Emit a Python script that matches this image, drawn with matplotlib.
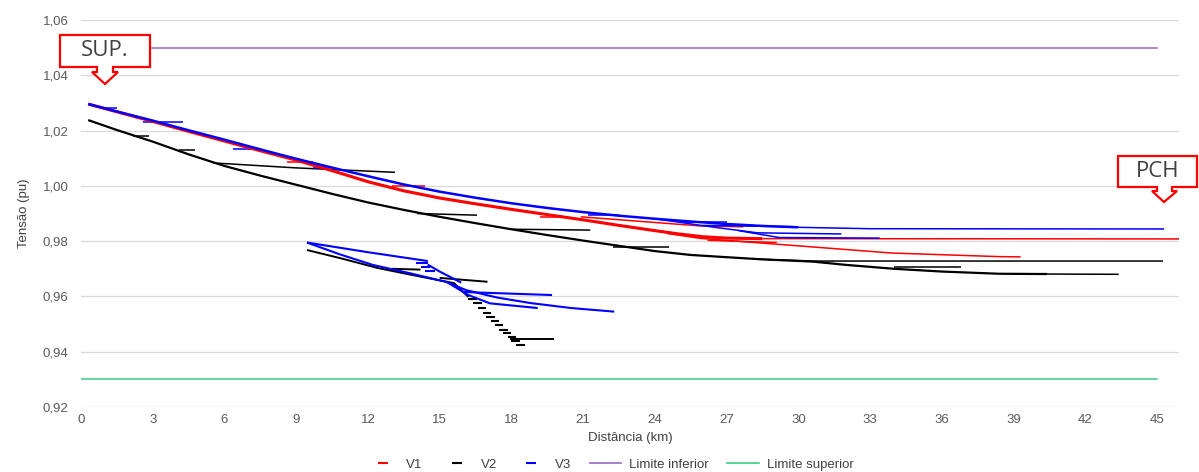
import matplotlib.pyplot as plt
from matplotlib.lines import Line2D
from matplotlib.patches import Polygon
from matplotlib.ticker import FuncFormatter, MultipleLocator

plt.rcParams['font.family'] = ['Liberation Sans', 'DejaVu Sans']

# Fase V1 (vermelho): tronco principal e ramais
v1_trunk_x = [0.3, 1.5, 3, 4.5, 6, 7.5, 9, 10.5, 12, 13.5, 15, 16.5, 18, 19.5,
              21, 22.5, 24, 25, 26, 27, 28.5]
v1_trunk_y = [1.0296, 1.0268, 1.0233, 1.0197, 1.0162, 1.0127, 1.0093, 1.0055,
              1.0015, 0.9982, 0.9956, 0.9935, 0.9915, 0.9896, 0.9877, 0.9857,
              0.9838, 0.9826, 0.9816, 0.9811, 0.9809]
v1_branches = [
    ([28.5, 46.1], [0.9809, 0.9808]),
    ([8.6, 9.7], [1.0087, 1.0087]),
    ([13.0, 14.4], [1.0001, 1.0001]),
    ([19.2, 20.2], [0.9888, 0.9888]),
    ([20.9, 25.9, 27.7], [0.9888, 0.9855, 0.9852]),
    ([26.2, 29.1], [0.9803, 0.9795]),
    ([24.5, 25.9, 30.6, 33.9, 38.4, 39.3], [0.9828, 0.9810, 0.9779, 0.9757, 0.9744, 0.9743]),
]

# Fase V2 (preto)
v2_trunk_x = [0.3, 1.5, 3, 4.5, 6, 7.5, 9, 10.5, 12, 13.5, 15, 16.5, 18, 19.5,
              21, 22.5, 24, 25.5, 27, 28.5, 30.6, 32, 34, 36, 38.4, 40.4]
v2_trunk_y = [1.0238, 1.0202, 1.0160, 1.0114, 1.0072, 1.0037, 1.0004, 0.9971,
              0.9940, 0.9913, 0.9888, 0.9865, 0.9843, 0.9822, 0.9802, 0.9783,
              0.9764, 0.9750, 0.9742, 0.9734, 0.9726, 0.9714, 0.9700, 0.9690,
              0.9682, 0.9681]
v2_branches = [
    ([40.4, 43.4], [0.9681, 0.9680]),
    ([2.17, 2.84], [1.0181, 1.0181]),
    ([4.1, 4.77], [1.0130, 1.0130]),
    ([5.52, 9.0, 13.13], [1.0083, 1.0065, 1.0049]),
    ([14.05, 16.56], [0.9900, 0.9894]),
    ([18.07, 21.3], [0.9843, 0.9840]),
    ([22.25, 24.6], [0.9779, 0.9779]),
    ([28.3, 30.6, 45.25], [0.9735, 0.9728, 0.9728]),
    ([34.0, 36.8], [0.9707, 0.9707]),
]
# ramal derivado a partir de 9,5 km
v2_lateral = [
    ([9.45, 11.0, 12.4, 14.0, 15.6, 16.2], [0.9768, 0.9735, 0.9703, 0.9675, 0.9648, 0.9598]),
    ([13.0, 14.2], [0.9700, 0.9697]),
    ([15.0, 17.0], [0.9667, 0.9653]),
    ([17.94, 19.8], [0.9446, 0.9446]),
]
v2_steps_x = [16.2, 16.4, 16.6, 16.8, 16.95, 17.15, 17.3, 17.5, 17.65, 17.85, 18.0, 18.2]
v2_steps_y = [0.9592, 0.9575, 0.9557, 0.9541, 0.9526, 0.9510, 0.9496, 0.9480,
              0.9466, 0.9452, 0.9440, 0.9424]

# Fase V3 (azul)
v3_trunk_x = [0.3, 1.5, 3, 4.5, 6, 7.5, 9, 10.5, 12, 13.5, 15, 16.5, 18, 19.5,
              21, 22.5, 24, 25.5, 27, 28.5, 30]
v3_trunk_y = [1.0296, 1.0269, 1.0236, 1.0201, 1.0167, 1.0132, 1.0098, 1.0066,
              1.0035, 1.0005, 0.9979, 0.9957, 0.9937, 0.9920, 0.9905, 0.9892,
              0.9881, 0.9871, 0.9862, 0.9855, 0.9850]
v3_branches = [
    ([30, 33, 45.3], [0.9850, 0.9845, 0.9844]),
    ([0.9, 1.5], [1.0280, 1.0280]),
    ([2.6, 4.27], [1.0232, 1.0232]),
    ([6.36, 7.49], [1.0133, 1.0133]),
    ([9.7, 10.3], [1.0065, 1.0065]),
    ([21.2, 22.5], [0.9895, 0.9895]),
    ([25.05, 27.0], [0.9870, 0.9870]),
    ([26.0, 30.0], [0.9857, 0.9852]),
    ([24.0, 26.5, 28.3, 31.8], [0.9881, 0.9850, 0.9830, 0.9826]),
    ([27.5, 29.2, 33.4], [0.9838, 0.9813, 0.9811]),
]
# ramal derivado a partir de 9,5 km
v3_lateral = [
    ([9.45, 10.8, 12.2, 13.8, 15.3, 16.1, 17.4, 18.8, 20.5, 22.3],
     [0.9795, 0.9753, 0.9714, 0.9683, 0.9652, 0.9623, 0.9596, 0.9576, 0.9558, 0.9545]),
    ([9.45, 12.0, 14.5], [0.9795, 0.9760, 0.9728]),
    ([15.3, 16.2, 17.1, 19.1], [0.9652, 0.9605, 0.9575, 0.9558]),
    ([16.0, 19.7], [0.9616, 0.9605]),
    ([14.5, 15.0, 15.9], [0.9715, 0.9690, 0.9650]),
    ([14.0, 14.5], [0.9720, 0.9720]),
    ([14.2, 14.6], [0.9706, 0.9706]),
    ([14.4, 14.8], [0.9692, 0.9692]),
]

# Limites de tensão
lim_inf = 1.05
lim_sup = 0.93
lim_x = [0.0, 45.0]

W, H = 1199, 472
fig = plt.figure(figsize=(W / 100, H / 100), dpi=100)
ax = fig.add_axes([81 / W, 1 - 407 / H, (1179 - 81) / W, (407 - 20) / H])

ax.plot(lim_x, [lim_inf, lim_inf], color='#9368C8', lw=1.1, zorder=2)
ax.plot(lim_x, [lim_sup, lim_sup], color='#3CC884', lw=1.1, zorder=2)


def draw_lines(lines, color, lw, z=3):
    for bx, by in lines:
        ax.plot(bx, by, color=color, lw=lw, solid_capstyle='butt', zorder=z)


# V2 por baixo, depois V1 e V3
draw_lines(v2_branches, 'black', 1.1)
draw_lines(v2_lateral, 'black', 1.4)
draw_lines([(v2_trunk_x, v2_trunk_y)], 'black', 1.6, z=4)
dash = 0.35
for sx, sy in zip(v2_steps_x, v2_steps_y):
    ax.plot([sx, sx + dash], [sy, sy], color='black', lw=1.5, solid_capstyle='butt', zorder=3)

draw_lines(v1_branches, '#FF0000', 1.1)
draw_lines([(v1_trunk_x, v1_trunk_y)], '#FF0000', 2.2, z=4)

draw_lines(v3_branches, '#0000FF', 1.1)
draw_lines(v3_lateral, '#0000FF', 1.5)
draw_lines([(v3_trunk_x, v3_trunk_y)], '#0000FF', 1.8, z=4)

ax.set_xlim(0, 45.92)
ax.set_ylim(0.92, 1.06)
ax.xaxis.set_major_locator(MultipleLocator(3))
ax.yaxis.set_major_locator(MultipleLocator(0.02))
ax.yaxis.set_major_formatter(FuncFormatter(lambda v, p: f'{v:.2f}'.replace('.', ',')))
ax.grid(axis='y', color='#D9D9D9', lw=0.9)
ax.set_axisbelow(True)
for s in ax.spines.values():
    s.set_visible(False)
ax.tick_params(length=0, labelsize=9.5, colors='#595959')
ax.tick_params(axis='y', pad=9)
ax.tick_params(axis='x', pad=5)
ax.set_xlabel('Distância (km)', fontsize=9.5, color='#404040', labelpad=4)
ax.set_ylabel('Tensão (pu)', fontsize=9.5, color='#404040', labelpad=9)

handles = [
    Line2D([], [], color='#FF0000', marker='_', ls='none', markersize=7, mew=1.5),
    Line2D([], [], color='black', marker='_', ls='none', markersize=7, mew=1.5),
    Line2D([], [], color='#0000FF', marker='_', ls='none', markersize=7, mew=1.5),
    Line2D([], [], color='#9368C8', lw=1.2),
    Line2D([], [], color='#3CC884', lw=1.2),
]
labels = ['V1', 'V2', 'V3', 'Limite inferior', 'Limite superior']
leg = fig.legend(handles, labels, loc='center', bbox_to_anchor=(0.509, 0.016),
                 ncol=5, frameon=False, fontsize=9.5, handlelength=2.4,
                 columnspacing=1.4, handletextpad=0.6)
for t in leg.get_texts():
    t.set_color('#404040')


# Balões de texto com seta apontando para baixo (coordenadas em pixels da figura)
def callout(text, x0, x1, y0, y1, sx0, sx1, y2, hx0, hx1, tip):
    pts = [(x0, y0), (x1, y0), (x1, y1), (sx1, y1), (sx1, y2), (hx1, y2),
           tip, (hx0, y2), (sx0, y2), (sx0, y1), (x0, y1)]
    pts = [(px / W, 1 - py / H) for px, py in pts]
    fig.patches.append(Polygon(pts, closed=True, transform=fig.transFigure,
                               facecolor='white', edgecolor='#FF0000', lw=1.6,
                               joinstyle='miter', zorder=10))
    fig.text((x0 + x1) / 2 / W, 1 - (y0 + y1) / 2 / H, text, ha='center', va='center',
             fontsize=16, color='#404040', family=['Open Sans', 'DejaVu Sans'], zorder=11)


callout('SUP.', 60, 150, 35, 67, 97, 113, 72, 92, 118, (105, 84))
callout('PCH', 1118, 1197, 156, 187, 1157, 1172, 191, 1152, 1177, (1164, 202))

fig.savefig('out.png', dpi=100)
